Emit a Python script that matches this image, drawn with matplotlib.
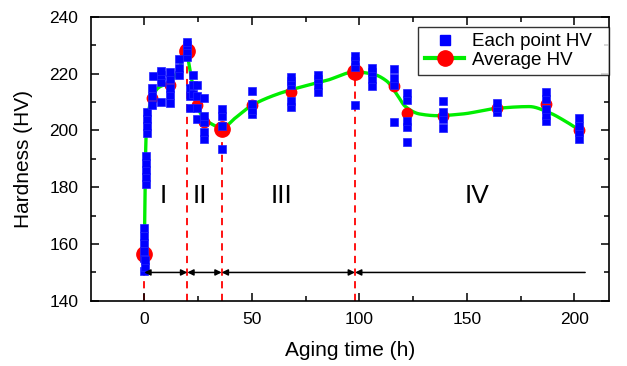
import numpy as np
import matplotlib
matplotlib.use("Agg")
import matplotlib.pyplot as plt
from matplotlib.lines import Line2D
from matplotlib.ticker import MultipleLocator

plt.rcParams['font.family'] = ['Liberation Sans', 'DejaVu Sans']

# ---- data ----
group_t = [0, 0.3, 0.9, 1.2, 3.4, 4.2, 8, 12, 16, 20, 21.5, 22.5, 24.5, 28, 36, 50,
           68, 81, 98, 106, 116, 122, 139, 164, 187, 202]
group_hv = [
    [150.5, 155, 157.5, 160.5, 163, 165.5],
    [152, 154.5],
    [181, 183.5, 186, 188.5, 191],
    [199, 201.5, 204, 206.5],
    [209, 212, 215],
    [219],
    [210, 217, 219.5, 221],
    [209.5, 212.5, 215, 218, 220.5],
    [219.5, 222, 225],
    [226, 228, 230, 231],
    [208, 212, 215],
    [213, 216, 219.5],
    [204, 208, 212, 216],
    [197, 199.5, 203, 205, 211.5],
    [193.5, 201.5, 205, 207.5],
    [205.9, 207.2, 209.3, 214],
    [208.3, 210.4, 216, 217.5, 218.7],
    [213.5, 216, 218, 219.5],
    [208.8, 222.4, 224.4, 226.3],
    [215.5, 218, 220.5, 222],
    [203, 216, 218.5, 221.5],
    [196, 201.2, 203.5, 210.8, 213.3],
    [201, 204, 206.5, 210.5],
    [206.5, 208, 209.5],
    [203.5, 205.5, 207.6, 211.2, 213.7],
    [197, 199.5, 201.5, 204.5],
]

# averages at the stage boundaries (drawn large) and the other averages (drawn small)
avg_t = [3.4, 12, 24.5, 28, 50, 68, 116, 122, 139, 164, 187, 202]
avg_hv = [211.5, 216, 209, 203, 208.8, 213.7, 215.8, 206, 205.2, 207.8, 209.4, 200]
stage_bounds = [0, 20, 36, 98]
stage_avg_hv = [156.5, 228, 200.5, 220.6]

# smoothed trend curve, control points
curve_t = [0, 0.4, 0.8, 1.6, 3.4, 6.5, 12, 16, 19.5, 21.3, 22.8, 25, 28.2, 32, 36,
           42.5, 50, 61.6, 72.4, 84.8, 98, 106.5, 112.7, 117.4, 121.3, 128, 136,
           148, 164, 179, 188.5, 195, 203]
curve_hv = [156.5, 180, 197, 204.5, 211, 215, 217, 221.5, 227.5, 221, 214.7, 207.8,
            204, 202, 200.8, 204.5, 208.8, 212.7, 215.2, 217.6, 220.6, 219.8, 217.4,
            212.8, 208.5, 205.8, 205.2, 205.8, 207.8, 208.4, 206.2, 203.6, 199.8]

stage_labels = ["I", "II", "III", "IV"]
stage_label_t = [8.8, 26, 64, 154.6]
arrow_end = 205


def pchip(x, y, xs):
    x = np.asarray(x, float); y = np.asarray(y, float)
    h = np.diff(x); d = np.diff(y) / h
    n = len(x); m = np.zeros(n)
    for k in range(1, n - 1):
        if d[k - 1] * d[k] > 0:
            w1 = 2 * h[k] + h[k - 1]; w2 = h[k] + 2 * h[k - 1]
            m[k] = (w1 + w2) / (w1 / d[k - 1] + w2 / d[k])
    m[0] = d[0]; m[-1] = d[-1]
    idx = np.clip(np.searchsorted(x, xs) - 1, 0, n - 2)
    t = (xs - x[idx]) / h[idx]
    h00 = 2 * t**3 - 3 * t**2 + 1; h10 = t**3 - 2 * t**2 + t
    h01 = -2 * t**3 + 3 * t**2; h11 = t**3 - t**2
    return h00 * y[idx] + h10 * h[idx] * m[idx] + h01 * y[idx + 1] + h11 * h[idx] * m[idx + 1]


fig = plt.figure(figsize=(6.27, 3.66), dpi=100)
ax = fig.add_axes([0.145, 0.178, 0.826, 0.776])

xs = np.linspace(curve_t[0], curve_t[-1], 1500)
ax.plot(xs, pchip(curve_t, curve_hv, xs), color='#00ee00', lw=2.4, zorder=2)

for bt, top in zip(stage_bounds, stage_avg_hv):
    ax.plot([bt, bt], [140, top], color='red', lw=1.3, ls=(0, (4, 3)), zorder=1.5)

ax.plot(avg_t, avg_hv, 'o', color='red', ms=7.5, zorder=3, ls='none')
ax.plot(stage_bounds, stage_avg_hv, 'o', color='red', ms=11, zorder=3, ls='none')

pts_t = [t for t, vals in zip(group_t, group_hv) for _ in vals]
pts_hv = [v for vals in group_hv for v in vals]
ax.plot(pts_t, pts_hv, 's', color='#0000ff', ms=5.2, mec='#2222ff', mew=0.5, ls='none', zorder=4)

aprops = dict(arrowstyle='<|-|>', color='black', lw=1.1, mutation_scale=9, shrinkA=0, shrinkB=0)
for a, b in zip(stage_bounds[:-1], stage_bounds[1:]):
    ax.annotate('', xy=(b, 150), xytext=(a, 150), arrowprops=aprops, zorder=5)
ax.annotate('', xy=(stage_bounds[-1], 150), xytext=(arrow_end, 150),
            arrowprops=dict(arrowstyle='-|>', color='black', lw=1.1, mutation_scale=9,
                            shrinkA=0, shrinkB=0), zorder=5)

for lab, lt in zip(stage_labels, stage_label_t):
    ax.text(lt, 177, lab, ha='center', va='center', fontsize=19)

ax.set_xlim(-24.8, 216)
ax.set_ylim(140, 240)
ax.xaxis.set_major_locator(MultipleLocator(50))
ax.xaxis.set_minor_locator(MultipleLocator(25))
ax.yaxis.set_major_locator(MultipleLocator(20))
ax.yaxis.set_minor_locator(MultipleLocator(10))
ax.tick_params(which='both', direction='in', top=True, right=True, width=1.1, labelsize=12.5)
ax.tick_params(which='major', length=6)
ax.tick_params(which='minor', length=3.5)
ax.tick_params(axis='y', which='both', pad=9)
ax.tick_params(axis='x', which='both', pad=8)
for s in ax.spines.values():
    s.set_linewidth(1.2)
ax.set_xlabel('Aging time (h)', fontsize=15, labelpad=10)
ax.set_ylabel('Hardness (HV)', fontsize=15, labelpad=12)

h1 = Line2D([], [], marker='s', color='#0000ff', ms=7, ls='none')
h2 = Line2D([], [], color='#00ee00', lw=3, marker='o', mfc='red', mec='red', ms=11)
leg = ax.legend([h1, h2], ['Each point HV  ', 'Average HV'], loc='upper right',
                bbox_to_anchor=(1.0, 0.965), borderaxespad=0, fontsize=13.5,
                frameon=True, fancybox=False, edgecolor='black', handlelength=2.1,
                handletextpad=0.4, borderpad=0.35, labelspacing=0.05)
leg.get_frame().set_linewidth(1.0)

fig.savefig('out.png', dpi=100)
